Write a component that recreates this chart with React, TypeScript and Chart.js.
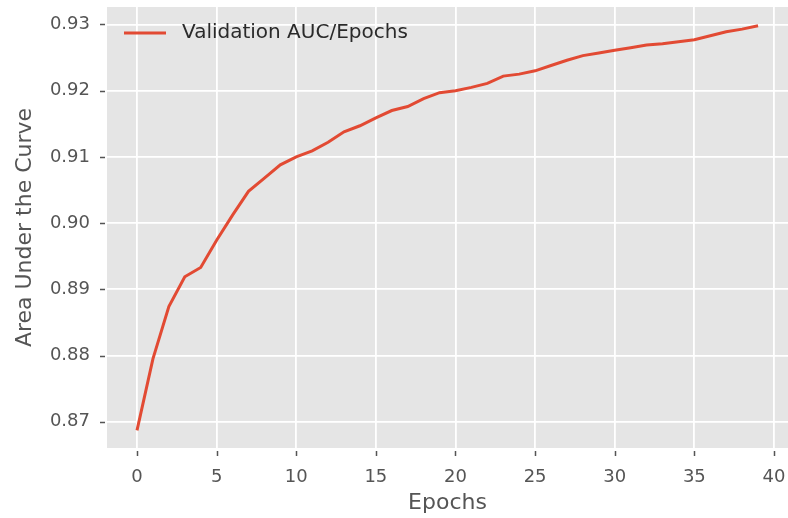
import React, { useEffect, useRef } from "react";
import { Chart, registerables } from "chart.js";

Chart.register(...registerables);

const epochs = [0, 1, 2, 3, 4, 5, 6, 7, 8, 9, 10, 11, 12, 13, 14, 15, 16, 17, 18, 19, 20, 21, 22, 23, 24, 25, 26, 27, 28, 29, 30, 31, 32, 33, 34, 35, 36, 37, 38, 39];
const auc = [0.8687, 0.8795, 0.8874, 0.8919, 0.8933, 0.8974, 0.9012, 0.9048, 0.9068, 0.9088, 0.91, 0.9109, 0.9122, 0.9138, 0.9147, 0.9159, 0.917, 0.9176, 0.9188, 0.9197, 0.92, 0.9205, 0.9211, 0.9222, 0.9225, 0.923, 0.9238, 0.9246, 0.9253, 0.9257, 0.9261, 0.9265, 0.9269, 0.9271, 0.9274, 0.9277, 0.9283, 0.9289, 0.9293, 0.9298];
const xTicks = [0, 5, 10, 15, 20, 25, 30, 35, 40];
const yTicks = [0.87, 0.88, 0.89, 0.9, 0.91, 0.92, 0.93];
const seriesLabel = "Validation AUC/Epochs";
const xTitle = "Epochs";
const yTitle = "Area Under the Curve";

const FONT = "'DejaVu Sans', sans-serif";
const LINE_COLOR = "#E24A33";

const bgPlugin = {
  id: "plotBg",
  beforeDraw(chart: any) {
    const { ctx, chartArea } = chart;
    ctx.save();
    ctx.fillStyle = "#E5E5E5";
    ctx.fillRect(chartArea.left, chartArea.top, chartArea.right - chartArea.left, chartArea.bottom - chartArea.top);
    ctx.restore();
  },
  afterDraw(chart: any) {
    const { ctx, chartArea } = chart;
    const xs = chart.scales.x;
    const ys = chart.scales.y;
    ctx.save();
    ctx.strokeStyle = "#555555";
    ctx.lineWidth = 1.5;
    ctx.beginPath();
    xTicks.forEach((v) => {
      const px = Math.round(xs.getPixelForValue(v)) + 0.5;
      ctx.moveTo(px, chartArea.bottom + 3);
      ctx.lineTo(px, chartArea.bottom + 8);
    });
    yTicks.forEach((v) => {
      const py = Math.round(ys.getPixelForValue(v)) + 0.5;
      ctx.moveTo(chartArea.left - 7, py);
      ctx.lineTo(chartArea.left - 2, py);
    });
    ctx.stroke();

    // legend
    const lx = chartArea.left + 17;
    const ly = chartArea.top + 26;
    ctx.strokeStyle = LINE_COLOR;
    ctx.lineWidth = 3;
    ctx.beginPath();
    ctx.moveTo(lx, ly);
    ctx.lineTo(lx + 42, ly);
    ctx.stroke();
    ctx.fillStyle = "#2a2a2a";
    ctx.font = `20px ${FONT}`;
    ctx.textBaseline = "middle";
    ctx.textAlign = "left";
    ctx.fillText(chart.data.datasets[0].label, lx + 58, ly);
    ctx.restore();
  },
};

export default function App() {
  const ref = useRef<HTMLCanvasElement>(null);
  useEffect(() => {
    if (!ref.current) return;
    const chart = new Chart(ref.current, {
      type: "line",
      data: {
        datasets: [
          {
            label: seriesLabel,
            data: epochs.map((e, i) => ({ x: e, y: auc[i] })),
            borderColor: LINE_COLOR,
            backgroundColor: LINE_COLOR,
            borderWidth: 3,
            pointRadius: 0,
            tension: 0,
            fill: false,
          },
        ],
      },
      options: {
        animation: false,
        responsive: false,
        devicePixelRatio: 1,
        layout: { padding: { top: 7, right: 0, left: 0, bottom: 0 } },
        plugins: { legend: { display: false }, tooltip: { enabled: false } },
        scales: {
          x: {
            type: "linear",
            min: -1.884,
            max: 40.88,
            afterFit: (s: any) => {
              s.height = 70;
              s.paddingLeft = 0;
              s.paddingRight = 0;
            },
            afterBuildTicks: (s: any) => {
              s.ticks = xTicks.map((v) => ({ value: v }));
            },
            grid: { color: "#FFFFFF", lineWidth: 1.8, tickLength: 10, tickColor: "rgba(0,0,0,0)" },
            border: { display: false },
            ticks: {
              color: "#555555",
              font: { family: FONT, size: 18 },
              padding: 9,
              maxRotation: 0,
              autoSkip: false,
              callback: (v: any) => String(v),
            },
            title: {
              display: true,
              text: xTitle,
              color: "#555555",
              font: { family: FONT, size: 22 },
              padding: { top: 0, bottom: 2 },
            },
          },
          y: {
            type: "linear",
            min: 0.86603,
            max: 0.93264,
            afterFit: (s: any) => {
              s.width = 107;
              s.paddingTop = 0;
              s.paddingBottom = 0;
            },
            afterBuildTicks: (s: any) => {
              s.ticks = yTicks.map((v) => ({ value: v }));
            },
            grid: { color: "#FFFFFF", lineWidth: 1.8, tickLength: 10, tickColor: "rgba(0,0,0,0)" },
            border: { display: false },
            ticks: {
              color: "#555555",
              font: { family: FONT, size: 18 },
              padding: 7,
              autoSkip: false,
              callback: (v: any) => Number(v).toFixed(2),
            },
            title: {
              display: true,
              text: yTitle,
              color: "#555555",
              font: { family: FONT, size: 22 },
              padding: { top: 12, bottom: 0 },
            },
          },
        },
      },
      plugins: [bgPlugin],
    });
    return () => chart.destroy();
  }, []);
  return (
    <div style={{ position: "absolute", left: 0, top: 0, width: 788, height: 518, background: "#fff" }}>
      <canvas ref={ref} width={788} height={518} style={{ display: "block", width: 788, height: 518 }} />
    </div>
  );
}
